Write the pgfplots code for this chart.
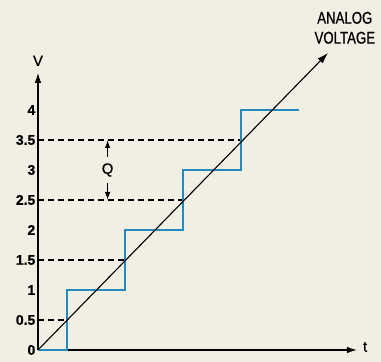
\documentclass[border=0pt]{standalone}
\usepackage{fontspec}
\setmainfont{Liberation Sans}[FakeBold=0.6]
\usepackage{pgfplots}
\pgfplotsset{compat=1.18}
\usetikzlibrary{arrows.meta,backgrounds}
\definecolor{bg}{RGB}{241,238,228}
\definecolor{stair}{RGB}{35,140,190}
\begin{document}
\begin{tikzpicture}
\begin{axis}[
  x=58bp, y=60bp,
  xmin=0, xmax=5.5, ymin=0, ymax=4.62,
  axis lines=left,
  axis line style={line width=1.3bp, -{Latex[length=10bp,width=6.5bp]}},
  xtick=\empty,
  ytick={0,0.5,1,1.5,2,2.5,3,3.5,4},
  yticklabels={0,0.5,1,1.5,2,2.5,3,3.5,4},
  major tick length=0pt,
  yticklabel style={font=\fontsize{14}{14}\selectfont\bfseries, inner sep=2.5bp},
  clip=false,
]
% dashed reference levels
\addplot[black, line width=1.2bp, dash pattern=on 6bp off 4bp] coordinates {(0,0.5)(0.5,0.5)};
\addplot[black, line width=1.2bp, dash pattern=on 6bp off 4bp] coordinates {(0,1.5)(1.5,1.5)};
\addplot[black, line width=1.2bp, dash pattern=on 6bp off 4bp] coordinates {(0,2.5)(2.5,2.5)};
\addplot[black, line width=1.2bp, dash pattern=on 6bp off 4bp] coordinates {(0,3.5)(3.5,3.5)};
% quantized staircase
\addplot[stair, line width=2.2bp] coordinates {
  (0,0)(0.5,0)(0.5,1)(1.5,1)(1.5,2)(2.5,2)(2.5,3)(3.5,3)(3.5,4)(4.5,4)};
% analog voltage
\addplot[black, line width=1.1bp, -{Latex[length=11bp,width=7bp]}] coordinates {(0,0)(5,4.95)};
% Q arrow
\draw[black, line width=1.1bp, -{Latex[length=8bp,width=5.5bp]}] (axis cs:1.2,3.22) -- (axis cs:1.2,3.5);
\draw[black, line width=1.1bp, -{Latex[length=8bp,width=5.5bp]}] (axis cs:1.2,2.78) -- (axis cs:1.2,2.5);
\node[font=\fontsize{15}{15}\selectfont] at (axis cs:1.2,3.0) {Q};
% labels
\node[font=\fontsize{15}{15}\selectfont] at (axis cs:0,4.82) {V};
\node[font=\fontsize{15}{15}\selectfont] at (axis cs:5.64,0.05) {t};
\node[font=\fontsize{17}{20}\selectfont\addfontfeature{FakeStretch=0.78}, align=center, inner sep=0pt] at (axis cs:5.29,5.37) {ANALOG\\VOLTAGE};
% background extents
\coordinate (bgA) at (axis cs:-0.655,-0.2);
\coordinate (bgB) at (axis cs:5.914,5.833);
\end{axis}
\begin{scope}[on background layer]
\fill[bg] (bgA) rectangle (bgB);
\end{scope}
\end{tikzpicture}
\end{document}
